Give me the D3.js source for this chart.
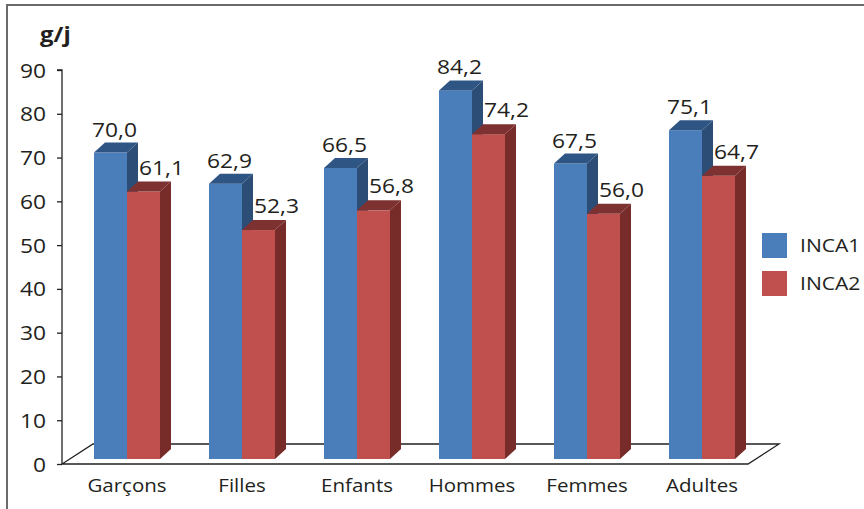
<!DOCTYPE html>
<html>
<head>
<meta charset="utf-8">
<script src="https://cdn.jsdelivr.net/npm/d3@7/dist/d3.min.js"></script>
<style>
  html, body { margin: 0; padding: 0; background: #fff; }
  svg { display: block; }
  text { font-family: "Open Sans", "Noto Sans", sans-serif; fill: #231f20; }
</style>
</head>
<body>
<svg id="chart" width="864" height="509"></svg>
<script>
const categories = ["Garçons", "Filles", "Enfants", "Hommes", "Femmes", "Adultes"];
const inca1 = [70.0, 62.9, 66.5, 84.2, 67.5, 75.1];
const inca2 = [61.1, 52.3, 56.8, 74.2, 56.0, 64.7];
const seriesNames = ["INCA1", "INCA2"];
const yTicks = [0, 10, 20, 30, 40, 50, 60, 70, 80, 90];
const yUnit = "g/j";

const colors = {
  INCA1: { front: "#4a7ebb", top: "#2f5585", side: "#2c4d75" },
  INCA2: { front: "#c0504d", top: "#7d3131", side: "#772c2a" }
};

const STRETCH = 1.14;
const svg = d3.select("#chart");
const fmt = v => d3.format(".1f")(v).replace(".", ",");

function label(g, tx, ty, str, size, anchor, weight) {
  return g.append("text")
    .attr("transform", `translate(${tx},${ty}) scale(${STRETCH},1)`)
    .attr("text-anchor", anchor || "start")
    .attr("font-size", size)
    .attr("font-weight", weight || "normal")
    .text(str);
}

// frame
svg.append("path")
  .attr("d", "M7,509 L7,5 L864,5")
  .attr("fill", "none").attr("stroke", "#6b6b6b").attr("stroke-width", 2);

const y = d3.scaleLinear().domain([0, 90]).range([464, 70]);
const x = d3.scaleBand().domain(categories).range([69.5, 759.5]);
const barW = 33, dX = 11, dY = 10, lift = 5;
const floorDX = 31, floorDY = 20;
const axisX = 62;

// floor
const fy = y(0), fx0 = axisX, fx1 = x.range()[1] - 11.5;
svg.append("path")
  .attr("d", `M${fx0},${fy} L${fx1},${fy} L${fx1 + floorDX},${fy - floorDY} L${fx0 + floorDX},${fy - floorDY} Z`)
  .attr("fill", "#fff").attr("stroke", "#222").attr("stroke-width", 1.3);

// axis
const axis = d3.axisLeft(y).tickValues(yTicks).tickSize(5).tickFormat(d => d);
const ax = svg.append("g").attr("transform", `translate(${axisX},0)`).call(axis);
ax.select(".domain").attr("stroke", "#222").attr("stroke-width", 1.3).attr("d", `M-5,${y(90)}H0V${y(0)}`);
ax.selectAll(".tick line").attr("stroke", "#222").attr("stroke-width", 1.3);
ax.selectAll(".tick text").remove();
ax.selectAll(".tick").each(function(d) {
  label(d3.select(this), -16, 7, d, 20, "end");
});

label(svg, 40, 42, yUnit, 21, "start", "bold");

function bar3d(g, bx, v, c) {
  const base = y(0) - lift, top = y(v) - lift;
  g.append("rect").attr("x", bx).attr("y", top).attr("width", barW).attr("height", base - top).attr("fill", c.front);
  g.append("path")
    .attr("d", `M${bx + barW},${top} L${bx + barW + dX},${top - dY} L${bx + barW + dX},${base - dY} L${bx + barW},${base} Z`)
    .attr("fill", c.side);
  g.append("path")
    .attr("d", `M${bx},${top} L${bx + dX},${top - dY} L${bx + barW + dX},${top - dY} L${bx + barW},${top} Z`)
    .attr("fill", c.top);
}

categories.forEach((cat, i) => {
  const g = svg.append("g");
  const cx = x(cat) + x.bandwidth() / 2;
  const bx1 = cx - barW, bx2 = cx;
  bar3d(g, bx1, inca1[i], colors.INCA1);
  bar3d(g, bx2, inca2[i], colors.INCA2);
  label(g, bx1 + barW / 2 + 4, y(inca1[i]) - 21, fmt(inca1[i]), 20, "middle");
  label(g, bx1 + barW + dX + 1, y(inca2[i]) - 22, fmt(inca2[i]), 20, "start");
  label(g, cx, 492, cat, 18, "middle");
});

// legend
const lg = svg.append("g");
seriesNames.forEach((s, i) => {
  lg.append("rect").attr("x", 762).attr("y", 233 + i * 38).attr("width", 25).attr("height", 25).attr("fill", colors[s].front);
  label(lg, 800, 252 + i * 38, s, 18.5, "start");
});
</script>
</body>
</html>
